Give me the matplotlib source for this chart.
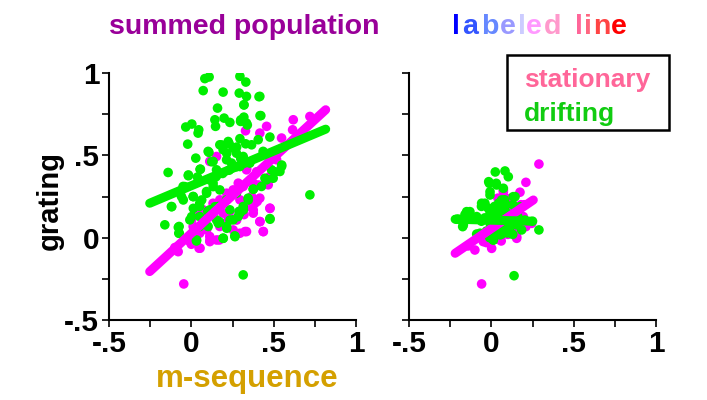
import matplotlib
matplotlib.use("Agg")
import matplotlib.pyplot as plt
from matplotlib import font_manager as fm
from matplotlib.patches import Rectangle

# ---------------- data ----------------
tick_vals = [-0.5, 0, 0.5, 1]
tick_labels = ['-.5', '0', '.5', '1']
minor_vals = [-0.25, 0.25, 0.75]

# summed population: drifting (green)
sum_drift_x = [0.082, 0.108, 0.072, 0.295, 0.331, 0.193, 0.291, 0.335, 0.319, 0.416,
               0.159, 0.143, 0.199, 0.234, 0.147, -0.034, 0.003, 0.045, 0.041, 0.319,
               0.299, 0.335, 0.422, -0.022, 0.102, 0.027, 0.055, -0.141, -0.018, 0.037,
               0.224, 0.173, 0.193, 0.295, 0.366, 0.406, 0.477, 0.436, 0.254, 0.274,
               0.315, 0.214, 0.244, 0.295, 0.355, 0.132, 0.153, 0.548, 0.538, 0.487,
               0.497, 0.457, 0.426, 0.376, 0.720, -0.050, -0.060, -0.121, 0.011, 0.051,
               0.092, 0.132, 0.173, 0.214, 0.274, 0.315, 0.345, 0.295, 0.254, 0.214,
               0.193, 0.264, 0.315, 0.477, -0.161, -0.074, -0.076, 0.031, -0.009, 0.051,
               0.112, 0.163, 0.234, 0.284, 0.153, 0.102, 0.163, 0.051,
               0.107, -0.018, 0.053, 0.124, -0.039, -0.119, -0.049, 0.012, 0.063, 0.012,
               -0.079, -0.073, 0.032, 0.194, 0.265, 0.478, 0.549, 0.510, 0.447, 0.376,
               0.346, 0.316, 0.290, 0.235, 0.170, 0.215, 0.113, 0.150, 0.190, 0.230,
               0.275, 0.300, 0.215, 0.275, 0.184, 0.230, 0.330, 0.133, 0.093, 0.050,
               0.144, 0.100, 0.002, 0.411, 0.320, 0.300, 0.340, 0.417]
sum_drift_y = [0.966, 0.976, 0.893, 0.980, 0.945, 0.884, 0.878, 0.858, 0.807, 0.858,
               0.787, 0.716, 0.726, 0.700, 0.676, 0.672, 0.690, 0.655, 0.635, 0.732,
               0.706, 0.696, 0.741, 0.568, 0.524, 0.483, 0.416, 0.396, 0.376, 0.368,
               0.584, 0.564, 0.534, 0.601, 0.564, 0.595, 0.611, 0.524, 0.544, 0.513,
               0.493, 0.473, 0.453, 0.432, 0.453, 0.463, 0.412, 0.432, 0.402, 0.412,
               0.361, 0.351, 0.311, 0.295, 0.260, 0.311, 0.250, 0.189, 0.250, 0.209,
               0.280, 0.331, 0.290, 0.230, 0.270, 0.189, 0.240, 0.149, 0.108, 0.068,
               -0.003, 0.011, -0.226, 0.116, 0.078, 0.068, 0.027, -0.020, 0.108, 0.128,
               0.169, 0.189, 0.169, 0.128, 0.108, 0.068, 0.088, 0.068,
               0.518, 0.381, 0.415, 0.461, 0.310, 0.188, 0.229, 0.249, 0.229, 0.178,
               0.063, 0.027, -0.014, -0.004, 0.006, 0.112, 0.441, 0.400, 0.361, 0.294,
               0.229, 0.168, 0.160, 0.107, 0.097, 0.057, 0.350, 0.370, 0.390, 0.410,
               0.431, 0.480, 0.512, 0.550, 0.563, 0.570, 0.570, 0.310, 0.270, 0.190,
               0.188, 0.160, 0.128, 0.856, 0.806, 0.715, 0.684, 0.741]

# summed population: stationary (magenta)
sum_stat_x = [0.329, 0.457, 0.619, 0.720, 0.615, 0.548, 0.416, -0.046, 0.047, -0.080,
              0.112, 0.153, 0.112, 0.335, 0.437, 0.416, 0.477, 0.376, 0.386, 0.366,
              0.416, 0.467, 0.335, 0.254, 0.295, 0.051, -0.009, 0.021, 0.072, 0.092,
              0.173, 0.112, 0.153, 0.335, 0.376, 0.315, 0.224, 0.203, 0.477, 0.518,
              0.285, 0.254, 0.173, 0.214, 0.132, 0.072, 0.031, 0.011, 0.295, 0.193,
              0.478, 0.417, 0.437, 0.326, 0.376, 0.400, 0.407, 0.457, 0.113, 0.053,
              0.170, 0.336, 0.396, 0.002, 0.093, 0.275, 0.320, 0.235, -0.100, 0.000]
sum_stat_y = [0.649, 0.676, 0.716, 0.736, 0.655, 0.605, 0.635, -0.281, -0.064, -0.085,
              0.007, -0.014, -0.024, 0.037, 0.037, 0.098, 0.179, 0.149, 0.209, 0.250,
              0.240, 0.321, 0.189, 0.047, 0.027, 0.027, -0.024, 0.027, 0.088, 0.128,
              0.068, 0.463, 0.493, 0.412, 0.331, 0.311, 0.128, 0.088, 0.371, 0.473,
              0.331, 0.290, 0.230, 0.270, 0.209, 0.169, 0.149, 0.068, 0.230, 0.149,
              0.178, 0.097, 0.037, 0.037, 0.168, 0.220, 0.320, 0.330, -0.014, -0.064,
              -0.014, 0.421, 0.400, 0.107, 0.047, 0.107, 0.140, 0.160, -0.060, -0.040]

# regression lines (summed population)
sum_stat_fit_x = [-0.253, 0.816]
sum_stat_fit_y = [-0.206, 0.777]
sum_drift_fit_x = [-0.253, 0.816]
sum_drift_fit_y = [0.209, 0.659]

# labeled line: stationary (magenta)
lab_stat_x = [0.289, -0.059, 0.210, 0.174, 0.073, -0.100, 0.002, 0.154, 0.194, 0.080,
              0.120, 0.040, 0.140, 0.100, -0.030, 0.180, 0.060, -0.140, 0.110, 0.150,
              0.073, 0.120, 0.245, 0.210, 0.154, -0.049, 0.042, 0.190, 0.090, 0.200]
lab_stat_y = [0.447, -0.281, 0.336, 0.276, 0.290, -0.075, -0.065, -0.004, 0.128, 0.199,
              0.160, 0.240, 0.060, 0.020, -0.030, 0.200, -0.020, -0.050, 0.230, 0.030,
              0.279, 0.240, 0.087, 0.067, 0.006, -0.024, -0.010, 0.090, 0.240, 0.200]

# labeled line: drifting (green)
lab_drift_x = [0.024, 0.083, 0.103, -0.016, 0.030, -0.008, -0.059, 0.133, -0.130, -0.160,
               -0.210, -0.174, -0.089, 0.138, 0.289, 0.250, 0.174, 0.154, 0.063, 0.012,
               0.000, 0.020, 0.050, 0.080, 0.100, 0.120, -0.020, 0.040, 0.070, 0.010,
               0.060, 0.090, -0.040, 0.030, 0.110, 0.140, 0.050, -0.010, 0.080, 0.020,
               -0.060, 0.160, 0.000, 0.100, 0.040,
               -0.012, 0.032, -0.008, -0.039, -0.060, 0.073, 0.144, 0.133, 0.174, -0.150,
               -0.200, -0.170, -0.089, -0.050, -0.008, 0.032, 0.052, 0.093, 0.113, 0.154,
               0.204, 0.184, 0.012, -0.030, -0.069, 0.052, 0.012, 0.093, 0.130, 0.070,
               -0.008,
               0.010, 0.030, 0.060, 0.090, 0.120, 0.025, 0.055, 0.085, 0.115, 0.045,
               0.075, 0.105, 0.000, 0.035, 0.065, 0.095, 0.125, 0.015, 0.045, 0.080]
lab_drift_y = [0.399, 0.405, 0.370, 0.340, 0.330, 0.259, 0.209, 0.249, 0.158, 0.140,
               0.112, 0.067, 0.022, -0.231, 0.047, 0.100, 0.178, 0.078, 0.229, -0.014,
               0.100, 0.150, 0.120, 0.060, 0.140, 0.100, 0.180, 0.040, 0.180, 0.050,
               0.020, 0.200, 0.120, 0.090, 0.050, 0.150, 0.080, 0.000, 0.110, 0.190,
               0.100, 0.130, 0.060, 0.030, 0.160,
               0.330, 0.320, 0.279, 0.209, 0.190, 0.300, 0.249, 0.199, 0.188, 0.158,
               0.112, 0.077, 0.128, 0.110, 0.148, 0.168, 0.107, 0.128, 0.067, 0.087,
               0.107, 0.047, 0.047, 0.040, 0.027, 0.017, -0.014, 0.030, 0.020, 0.070,
               0.087,
               0.080, 0.060, 0.090, 0.110, 0.130, 0.130, 0.150, 0.160, 0.140, 0.060,
               0.040, 0.060, 0.020, 0.100, 0.120, 0.080, 0.110, 0.170, 0.210, 0.230]

lab_stat_fit_x = [-0.22, 0.255]
lab_stat_fit_y = [-0.095, 0.229]
lab_drift_fit_x = [-0.22, 0.24]
lab_drift_fit_y = [0.112, 0.100]

# title letters and colours for "labeled line"
title2_letters = ['l', 'a', 'b', 'e', 'l', 'e', 'd', 'l', 'i', 'n', 'e']
title2_colors = ['#0000FF', '#3355FF', '#6688FF', '#9999FF', '#CCCCFF', '#FF99FF',
                 '#FF99CC', '#FF6699', '#FF6680', '#FF4444', '#FF0000']

# ---------------- style ----------------
names = {f.name for f in fm.fontManager.ttflist}
narrow = 'Liberation Sans Narrow' if 'Liberation Sans Narrow' in names else 'Liberation Sans'
base = 'Liberation Sans'

MAG = '#FF00FF'
GRN = '#00EE00'
PT = 48
LW = 6.5

fig = plt.figure(figsize=(7.07, 4.0), dpi=100)
ax1 = fig.add_axes([109/707, 80/400, 247/707, 247/400])
ax2 = fig.add_axes([409/707, 80/400, 247/707, 247/400])


def style(ax, ylabels=True):
    ax.set_xlim(-0.5, 1)
    ax.set_ylim(-0.5, 1)
    for s in ['top', 'right']:
        ax.spines[s].set_visible(False)
    for s in ['left', 'bottom']:
        ax.spines[s].set_linewidth(1.5)
    ax.set_xticks(tick_vals)
    ax.set_xticks(minor_vals, minor=True)
    ax.set_yticks(tick_vals)
    ax.set_yticks(minor_vals, minor=True)
    ax.set_xticklabels(tick_labels, fontsize=21.5, fontweight='bold', family=narrow)
    if ylabels:
        ax.set_yticklabels(tick_labels, fontsize=21.5, fontweight='bold', family=narrow)
    else:
        ax.set_yticklabels([])
    ax.tick_params(which='both', direction='out', length=5, width=1.2, pad=2)


def draw(ax, sx, sy, dx, dy, sfx, sfy, dfx, dfy):
    ax.scatter(sx, sy, s=PT, color=MAG, edgecolors='none', zorder=2)
    ax.scatter(dx, dy, s=PT, color=GRN, edgecolors='none', zorder=3)
    ax.plot(sfx, sfy, color=MAG, lw=LW, solid_capstyle='round', zorder=4)
    ax.plot(dfx, dfy, color=GRN, lw=LW, solid_capstyle='round', zorder=5)


draw(ax1, sum_stat_x, sum_stat_y, sum_drift_x, sum_drift_y,
     sum_stat_fit_x, sum_stat_fit_y, sum_drift_fit_x, sum_drift_fit_y)
draw(ax2, lab_stat_x, lab_stat_y, lab_drift_x, lab_drift_y,
     lab_stat_fit_x, lab_stat_fit_y, lab_drift_fit_x, lab_drift_fit_y)
style(ax1, True)
style(ax2, False)

# axis labels
fig.text(50/707, 1 - 200/400, 'grating', rotation=90, ha='center', va='center',
         fontsize=21, fontweight='bold', family=base, color='black')
fig.text(247/707, 1 - 379/400, 'm-sequence', ha='center', va='center',
         fontsize=22.5, fontweight='bold', family=base, color='#D4A000')

# titles
TS = 20.5
fig.text(244/707, 1 - 27/400, 'summed population', ha='center', va='center',
         fontsize=TS, fontweight='bold', family=base, color='#990099')

# multicolour title: letter left edges (pixels) as in the reference layout
letter_px = [452, 462, 481, 500, 518, 526, 544, 575, 584, 593, 611]
for ch, col, px in zip(title2_letters, title2_colors, letter_px):
    fig.text(px/707, 1 - 27/400, ch, ha='left', va='center', fontsize=TS,
             fontweight='bold', family=base, color=col)

# legend box
fig.patches.append(Rectangle((507/707, 1 - 130/400), 162/707, 75/400,
                             transform=fig.transFigure, fill=False,
                             edgecolor='black', lw=1.8))
fig.text(524/707, 1 - 80/400, 'stationary', ha='left', va='center', fontsize=19,
         fontweight='bold', family=base, color='#FF6699')
fig.text(524/707, 1 - 114/400, 'drifting', ha='left', va='center', fontsize=19,
         fontweight='bold', family=base, color='#11CC11')

fig.savefig('out.png', dpi=100)
